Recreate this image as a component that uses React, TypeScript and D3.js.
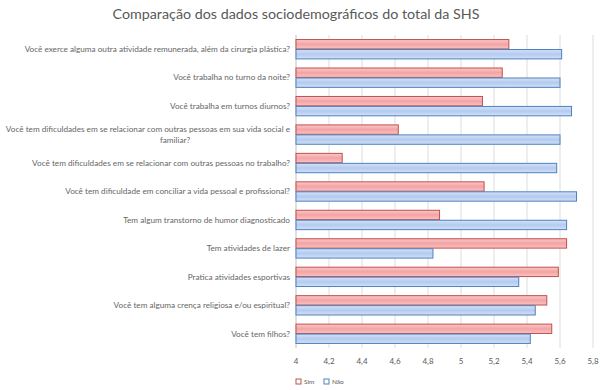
import React, { useEffect } from 'react';
import * as d3 from 'd3';

const categories = [
  'Você exerce alguma outra atividade remunerada, além da cirurgia plástica?',
  'Você trabalha no turno da noite?',
  'Você trabalha em turnos diurnos?',
  'Você tem dificuldades em se relacionar com outras pessoas em sua vida social e|familiar?',
  'Você tem dificuldades em se relacionar com outras pessoas no trabalho?',
  'Você tem dificuldade em conciliar a vida pessoal e profissional?',
  'Tem algum transtorno de humor diagnosticado',
  'Tem atividades de lazer',
  'Pratica atividades esportivas',
  'Você tem alguma crença religiosa e/ou espiritual?',
  'Você tem filhos?',
];
const simValues = [5.29, 5.25, 5.13, 4.62, 4.28, 5.14, 4.87, 5.64, 5.59, 5.52, 5.55];
const naoValues = [5.61, 5.6, 5.67, 5.6, 5.58, 5.7, 5.64, 4.83, 5.35, 5.45, 5.42];
const seriesNames = ['Sim', 'Não'];
const ticks = [4, 4.2, 4.4, 4.6, 4.8, 5, 5.2, 5.4, 5.6, 5.8];

const W = 600;
const H = 390;
const m = { left: 296, right: 7, top: 35, bottom: 42 };
const font = 'Lato, "Open Sans", sans-serif';
const labelSize = 8.2;

export default function App() {
  useEffect(() => {
    document.body.style.margin = '0';
  }, []);

  const x = d3.scaleLinear().domain([4, 5.8]).range([m.left, W - m.right]);
  const y = d3.scaleBand<string>().domain(categories).range([m.top, H - m.bottom]).paddingInner(0.32).paddingOuter(0.16);
  const inner = d3.scaleBand<string>().domain(seriesNames).range([0, y.bandwidth()]).paddingInner(0.06);
  const fmt = (v: number) => d3.format('.1~f')(v).replace('.', ',');

  const series = [
    { name: 'Sim', values: simValues, fill: 'url(#gSim)', stroke: '#c0504d' },
    { name: 'Não', values: naoValues, fill: 'url(#gNao)', stroke: '#4f81bd' },
  ];

  return (
    <svg width={W} height={H} style={{ display: 'block', background: '#fff' }}>
      <defs>
        <linearGradient id="gSim" x1="0" y1="0" x2="0" y2="1">
          <stop offset="0" stopColor="#f9c9c9" />
          <stop offset="0.5" stopColor="#f4a3a4" />
          <stop offset="1" stopColor="#f9c3c3" />
        </linearGradient>
        <linearGradient id="gNao" x1="0" y1="0" x2="0" y2="1">
          <stop offset="0" stopColor="#d5e2f7" />
          <stop offset="0.5" stopColor="#b3cbf0" />
          <stop offset="1" stopColor="#d3e0f6" />
        </linearGradient>
      </defs>
      <text x={296} y={19} textAnchor="middle" fontFamily={font} fontSize={14.3} fill="#595959">
        Comparação dos dados sociodemográficos do total da SHS
      </text>
      {ticks.map((t) => (
        <line key={t} x1={x(t)} x2={x(t)} y1={m.top} y2={H - m.bottom} stroke={t === 4 ? '#bfbfbf' : '#dcdcdc'} strokeWidth={1} />
      ))}
      {ticks.map((t) => (
        <text key={'l' + t} x={x(t)} y={364} textAnchor="middle" fontFamily={font} fontSize={8} fill="#595959">
          {fmt(t)}
        </text>
      ))}
      {categories.map((c, i) => {
        const y0 = y(c) as number;
        const lines = c.split('|');
        const cy = y0 + y.bandwidth() / 2;
        return (
          <g key={c}>
            {lines.length === 1 ? (
              <text x={290} y={cy + 2.8} textAnchor="end" fontFamily={font} fontSize={labelSize} fill="#666">
                {c}
              </text>
            ) : (
              <>
                <text x={290} y={cy - 3} textAnchor="end" fontFamily={font} fontSize={labelSize} fill="#666">
                  {lines[0]}
                </text>
                <text x={175} y={cy + 8.5} textAnchor="middle" fontFamily={font} fontSize={labelSize} fill="#666">
                  {lines[1]}
                </text>
              </>
            )}
            {series.map((s) => (
              <rect
                key={s.name}
                x={x(4)}
                y={y0 + (inner(s.name) as number)}
                width={x(s.values[i]) - x(4)}
                height={inner.bandwidth()}
                fill={s.fill}
                stroke={s.stroke}
                strokeWidth={1}
              />
            ))}
          </g>
        );
      })}
      {series.map((s, k) => (
        <g key={'lg' + s.name} transform={`translate(${296 + k * 28},${379})`}>
          <rect x={0} y={0} width={5} height={5} fill="#fff" stroke={s.stroke} strokeWidth={1} />
          <text x={8} y={5} fontFamily={font} fontSize={6.5} fill="#595959">
            {s.name}
          </text>
        </g>
      ))}
    </svg>
  );
}
